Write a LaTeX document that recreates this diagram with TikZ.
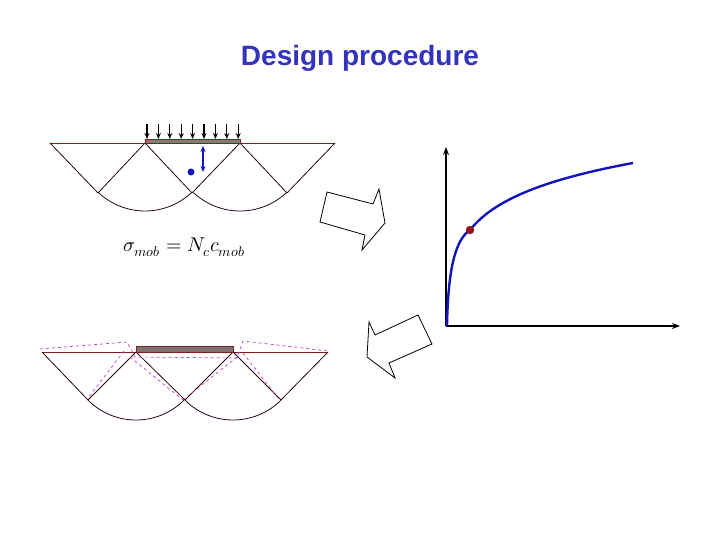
\documentclass[tikz,border=0pt]{standalone}
\usepackage{fontspec}
\setmainfont{Liberation Sans}
\usepackage{unicode-math}
\setmathfont{Latin Modern Math}
\usetikzlibrary{arrows.meta}
\definecolor{titleblue}{RGB}{51,51,187}
\definecolor{soil}{RGB}{128,32,32}
\definecolor{foot}{RGB}{150,115,115}
\definecolor{foot2}{RGB}{128,112,112}
\definecolor{curveblue}{RGB}{20,20,190}
\definecolor{dotred}{RGB}{150,20,30}
\definecolor{dashmag}{RGB}{200,60,200}
\tikzset{
  soilline/.style={draw=soil, line width=0.9pt},
  fanline/.style={draw=black!70!soil, line width=0.8pt},
  dashline/.style={draw=dashmag, dashed, line width=0.7pt},
  blockarrow/.style={draw=black, line width=0.8pt, fill=white},
  loadarrow/.style={-{Stealth[length=6pt,width=5pt]}, line width=1.1pt},
  axis/.style={-{Stealth[length=8pt,width=6pt]}, line width=1.4pt}
}
\begin{document}
\begin{tikzpicture}[x=1pt,y=-1pt]
\useasboundingbox (0,0) rectangle (720,540);
\node[font=\bfseries\fontsize{28}{32}\selectfont, text=titleblue] (title) at (360,58) {Design procedure};

% ---- top mechanism ----
\coordinate (A) at (145,143); \coordinate (B) at (240,143);
\coordinate (C) at (192,193); \coordinate (L) at (98,193); \coordinate (R) at (287,193);
\coordinate (LE) at (50,143); \coordinate (RE) at (335,143);
\draw[soilline] (LE) -- (A) (B) -- (RE);
\draw[fanline] (LE) -- (L) (A) -- (L) (A) -- (C) (B) -- (C) (B) -- (R) (RE) -- (R);
\draw[fanline] plot[domain=133:47, samples=40] ({145+68*cos(\x)},{143+68*sin(\x)});
\draw[fanline] plot[domain=133:47, samples=40] ({240+68*cos(\x)},{143+68*sin(\x)});
\draw[draw=soil, fill=foot, line width=0.9pt] (145,139) rectangle (240,143);
\foreach \i in {0,...,8} {
  \coordinate (ls\i) at ({147+11.4*\i},124); \coordinate (le\i) at ({147+11.4*\i},139);
  \draw[loadarrow] (ls\i) -- (le\i);
}
\coordinate (u1) at (203,146); \coordinate (u2) at (203,172);
\draw[curveblue, line width=1.5pt, {Stealth[length=6pt,width=5pt]}-{Stealth[length=6pt,width=5pt]}] (u1) -- (u2);
\node[circle, fill=curveblue, inner sep=0pt, minimum size=7pt] (pt) at (191,172) {};
\node[font=\fontsize{20}{22}\selectfont] (eq) at (184,247) {$\sigma_{mob}=N_c c_{mob}$};

% ---- block arrows ----
\draw[blockarrow] (327,192) -- (373,204) -- (379,189) -- (385,223) -- (362,250) -- (365,235) -- (320,222) -- cycle;
\draw[blockarrow] (418,315) -- (432,344) -- (389,363) -- (395,378) -- (367,357) -- (369,322) -- (375,335) -- cycle;

% ---- graph ----
\coordinate (O) at (446,326); \coordinate (Yt) at (446,147); \coordinate (Xt) at (680,326);
\draw[axis] (O) -- (Yt);
\draw[axis] (O) -- (Xt);
\draw[curveblue, line width=2.4pt] (447,326) .. controls (448,270) and (455,240) .. (470,230)
  .. controls (490,205) and (530,182) .. (633,163);
\node[circle, fill=dotred, draw=soil, inner sep=0pt, minimum size=8pt] (rd) at (470,230) {};

% ---- bottom mechanism ----
\coordinate (A2) at (136,352); \coordinate (B2) at (233,352);
\coordinate (C2) at (185,400); \coordinate (L2) at (88,400); \coordinate (R2) at (281,400);
\coordinate (LE2) at (42,352); \coordinate (RE2) at (328,352);
\draw[soilline] (LE2) -- (A2) (B2) -- (RE2);
\draw[fanline] (LE2) -- (L2) (A2) -- (L2) (A2) -- (C2) (B2) -- (C2) (B2) -- (R2) (RE2) -- (R2);
\draw[fanline] plot[domain=135:45, samples=40] ({136+68*cos(\x)},{352+68*sin(\x)});
\draw[fanline] plot[domain=135:45, samples=40] ({233+68*cos(\x)},{352+68*sin(\x)});
\draw[draw=soil, fill=foot2, line width=0.9pt] (136,346) rectangle (233,352);
% dashed displaced mechanism
\draw[dashline] (40,349) -- (127,342) -- (135,357) -- (237,358) -- (243,341) -- (328,351);
\draw[dashline] (124,351) -- (88,398);
\draw[dashline] (130,357) -- (183,400);
\draw[dashline] (237,357) -- (183,400);
\draw[dashline] (243,353) -- (278,398);
\end{tikzpicture}
\end{document}
